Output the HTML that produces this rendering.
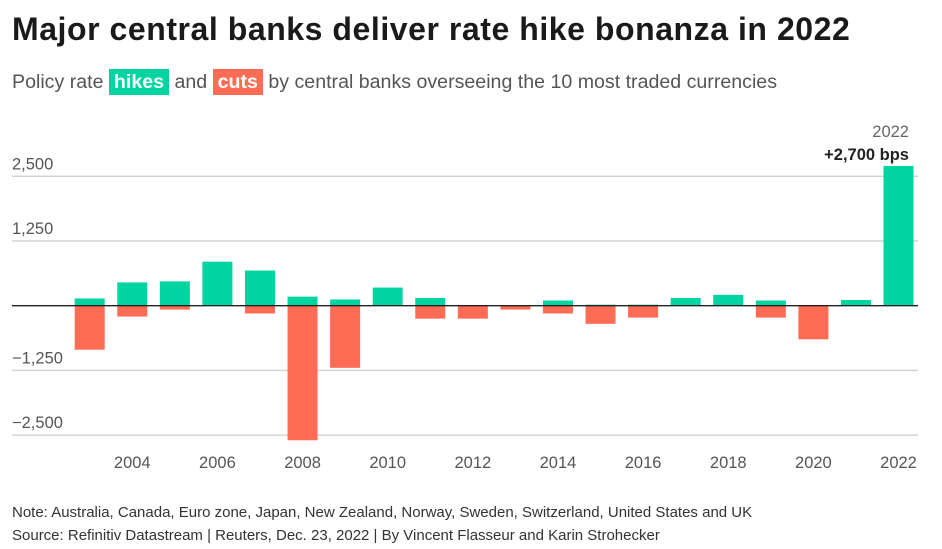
<!DOCTYPE html>
<html><head><meta charset="utf-8">
<style>
body{margin:0;width:942px;height:549px;background:#fff;font-family:"Liberation Sans",sans-serif;overflow:hidden;position:relative}
.t{position:absolute;left:12px;top:11px;font-size:32px;font-weight:bold;color:#1a1a1a;letter-spacing:0.55px}
.s{position:absolute;left:12px;top:71px;font-size:19.6px;color:#555}
.h{background:#00d4a0;color:#fff;font-weight:bold;padding:2px 5px}
.c{background:#ff6c55;color:#fff;font-weight:bold;padding:2px 5px}
.n{position:absolute;left:12px;font-size:15px;color:#333}
</style></head><body>
<div class="t">Major central banks deliver rate hike bonanza in 2022</div>
<div class="s">Policy rate <span class="h">hikes</span> and <span class="c">cuts</span> by central banks overseeing the 10 most traded currencies</div>
<svg id="ch" width="942" height="549" style="position:absolute;left:0;top:0"></svg>
<div class="n" style="top:504px">Note: Australia, Canada, Euro zone, Japan, New Zealand, Norway, Sweden, Switzerland, United States and UK</div>
<div class="n" style="top:527px">Source: Refinitiv Datastream | Reuters, Dec. 23, 2022 | By Vincent Flasseur and Karin Strohecker</div>
<script>
const years=[2003,2004,2005,2006,2007,2008,2009,2010,2011,2012,2013,2014,2015,2016,2017,2018,2019,2020,2021,2022];
const hikes=[140,450,470,850,680,175,120,350,150,0,0,100,20,20,150,210,100,0,110,2700];
const cuts=[-850,-210,-75,0,-150,-2600,-1200,0,-250,-250,-75,-150,-350,-230,0,0,-230,-650,0,0];
const yTicks=[2500,1250,-1250,-2500];
const yTickLabels=["2,500","1,250","\u22121,250","\u22122,500"];
const xTickYears=[2004,2006,2008,2010,2012,2014,2016,2018,2020,2022];
const NS="http://www.w3.org/2000/svg";
const svg=document.getElementById('ch');
const y=v=>305.7-v*(64.7/1250);
const x=yr=>89.7+(yr-2003)*42.57;
const bw=30;
function mk(t,a){const e=document.createElementNS(NS,t);for(const k in a)e.setAttribute(k,a[k]);svg.appendChild(e);return e;}
yTicks.forEach((v,i)=>{
  const l=mk('line',{x1:12,x2:918,y1:y(v),y2:y(v),stroke:'#d4d4d4','stroke-width':1.5});
  
  
  const t=mk('text',{x:12,y:y(v)-7,'font-size':16.5,fill:'#555'});
  t.textContent=yTickLabels[i];
  
  
});
years.forEach((yr,i)=>{
  if(hikes[i]>0){const r=mk('rect',{x:x(yr)-bw/2,y:y(hikes[i]),width:bw,height:y(0)-y(hikes[i]),fill:'#00d4a0'});
  
  }
  if(cuts[i]<0){const r=mk('rect',{x:x(yr)-bw/2,y:y(0),width:bw,height:y(cuts[i])-y(0),fill:'#ff6c55'});
  
  }
});
const z=mk('line',{x1:12,x2:918,y1:y(0),y2:y(0),stroke:'#222','stroke-width':1.3});


xTickYears.forEach(yr=>{
  const t=mk('text',{x:x(yr),y:468,'font-size':16.5,fill:'#555','text-anchor':'middle'});
  t.textContent=yr;
  
  
});
const last=years.length-1;
const a1=mk('text',{x:909,y:y(hikes[last])-29,'font-size':16.5,fill:'#666','text-anchor':'end'});
a1.textContent=years[last];


const a2=mk('text',{x:909,y:y(hikes[last])-6,'font-size':16.5,'font-weight':'bold',fill:'#222','text-anchor':'end'});
a2.textContent='+2,700 bps';


</script>
</body></html>
